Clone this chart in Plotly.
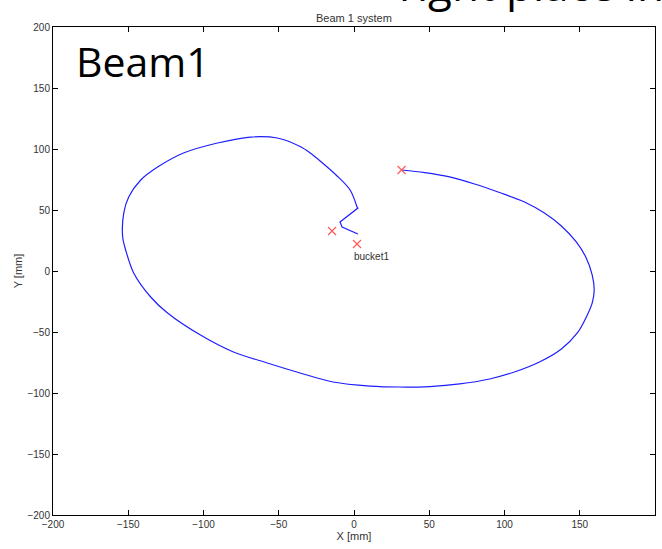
import plotly.graph_objects as go

# Beam trajectory (mm)
beam_x = [31.6, 47.0, 63.6, 80.1, 96.7, 113.3, 126.5, 137.8, 147.7, 154.3,
          158.3, 159.6, 158.3, 155.0, 148.4, 137.8, 123.2, 106.6, 90.1, 70.2,
          50.3, 30.5, 10.6, -13.9, -35.8, -57.6, -80.1, -102.0, -123.9, -135.1,
          -146.4, -151.7, -153.7, -153.0, -149.7, -141.7, -130.5, -113.3, -90.7, -68.9,
          -51.0, -35.8, -29.1, -22.5, -11.9, -2.6, 2.0,
          2.6, -9.3, -7.9, 2.6]
beam_y = [82.8, 80.7, 77.1, 71.3, 64.3, 56.6, 47.5, 36.9, 23.8, 10.7,
          -3.3, -15.6, -26.2, -36.1, -50.8, -63.9, -74.6, -82.8, -88.5, -92.6,
          -94.7, -95.1, -94.3, -91.0, -83.6, -75.4, -66.4, -52.5, -34.4, -21.3,
          -1.6, 17.2, 27.9, 47.5, 60.7, 74.6, 85.2, 96.7, 104.9, 109.8,
          109.0, 102.0, 96.7, 90.2, 78.7, 66.4, 52.5,
          51.6, 40.2, 36.1, 30.3]

# Marker points (mm)
mark_x = [31.6, -14.6, 2.0]
mark_y = [82.8, 32.8, 22.1]

bucket_label = "bucket1"
tick_vals = [-200, -150, -100, -50, 0, 50, 100, 150, 200]

n_smooth = 47
fig = go.Figure()
fig.add_trace(go.Scatter(x=beam_x[:n_smooth], y=beam_y[:n_smooth], mode="lines",
                         line=dict(color="rgb(30,30,255)", width=1.2, shape="spline", smoothing=0.9),
                         showlegend=False, hoverinfo="skip"))
fig.add_trace(go.Scatter(x=beam_x[n_smooth - 1:], y=beam_y[n_smooth - 1:], mode="lines",
                         line=dict(color="rgb(30,30,255)", width=1.2),
                         showlegend=False, hoverinfo="skip"))
fig.add_trace(go.Scatter(x=mark_x, y=mark_y, mode="markers",
                         marker=dict(symbol="x-thin", size=8,
                                     line=dict(color="rgb(255,90,90)", width=1.2)),
                         showlegend=False))

fig.add_annotation(x=mark_x[2], y=mark_y[2], xref="x", yref="y",
                   text=bucket_label, showarrow=False,
                   xanchor="left", yanchor="top", xshift=-5, yshift=-5,
                   font=dict(family="Liberation Sans", size=10, color="#333"))

fig.add_annotation(x=0.5, y=1, xref="paper", yref="paper", text="Beam 1 system",
                   showarrow=False, xanchor="center", yanchor="bottom", yshift=1,
                   font=dict(family="Liberation Sans", size=11, color="#333"))

fig.add_annotation(x=0.035, y=0.93, xref="paper", yref="paper", text="Beam1",
                   showarrow=False, xanchor="left", yanchor="middle",
                   font=dict(family="Open Sans", size=41, color="black"))

fig.add_annotation(x=0.571, y=1.0, xref="paper", yref="paper", text="right place in",
                   showarrow=False, xanchor="left", yanchor="bottom", yshift=11,
                   font=dict(family="Open Sans", size=44, color="black"))

axis_common = dict(range=[-200, 200], tickvals=tick_vals, showgrid=False,
                   zeroline=False, showline=True, linecolor="black", linewidth=1,
                   mirror="ticks", ticks="inside", ticklen=5, tickcolor="black",
                   automargin=False,
                   tickfont=dict(family="Liberation Sans", size=10, color="#333"))

fig.update_xaxes(**axis_common,
                 title=dict(text="X [mm]", standoff=2,
                            font=dict(family="Liberation Sans", size=11, color="#333")))
fig.update_yaxes(**axis_common,
                 title=dict(text="Y [mm]", standoff=2,
                            font=dict(family="Liberation Sans", size=11, color="#333")))

fig.update_layout(width=662, height=549,
                  margin=dict(l=53, r=7, t=27, b=34),
                  paper_bgcolor="white", plot_bgcolor="white")

fig.write_html("out.html", config={"displayModeBar": False},
               post_script="document.body.style.margin='0';document.body.style.overflow='hidden';")
